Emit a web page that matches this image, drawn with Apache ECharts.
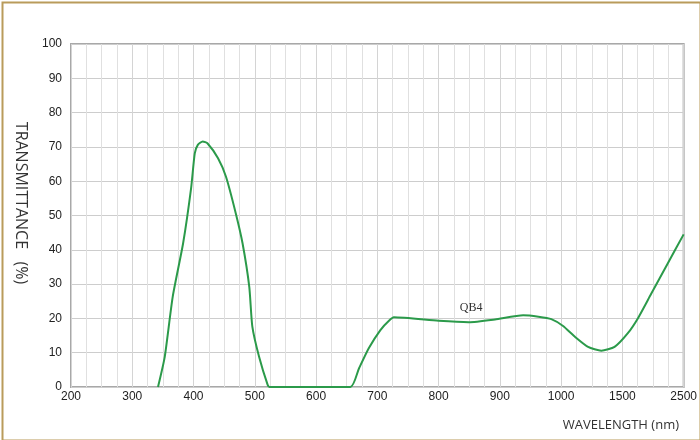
<!DOCTYPE html>
<html><head><meta charset="utf-8">
<script src="https://cdn.jsdelivr.net/npm/echarts@6/dist/echarts.min.js"></script>
<style>html,body{margin:0;padding:0;background:#fff}#c{width:700px;height:440px}</style>
</head><body><div id="c"></div>
<script>
// Tick labels of the (piecewise) wavelength axis
var xTickLabels = ['200','300','400','500','600','700','800','900','1000','1500','2500'];
var xTickNm = [200,300,400,500,600,700,800,900,1000,1500,2500];
// Curve QB4: wavelength (nm) and transmittance (%)
var wavelength = [342, 353, 366, 383, 396, 402, 407, 415, 423, 440, 453, 469, 480, 491, 496, 507, 521, 524,
                  656, 670, 686, 705, 719, 727, 800, 849, 892, 938, 963, 984, 1016, 1111, 1220, 1328, 1436, 1589, 1752, 1968, 2240, 2500];
var transmittance = [0, 8.8, 26.3, 41.9, 57.9, 68.1, 70.6, 71.6, 71.0, 66.7, 61.3, 50.6, 41.9, 29.2, 17.6, 8.8, 0.6, 0,
                  0, 5.4, 11.3, 16.6, 19.3, 20.3, 19.3, 18.9, 19.7, 20.9, 20.5, 19.8, 17.8, 14.7, 11.7, 10.6, 11.7, 15.7, 20.0, 27.1, 36.0, 44.5];
var seriesName = 'QB4';
var labelNm = 853, labelValue = 23;

// map wavelength onto the piecewise-linear axis position (one unit per tick interval)
function nmToPos(nm){
  for (var i=0;i<xTickNm.length-1;i++){
    if (nm <= xTickNm[i+1] || i === xTickNm.length-2){
      return i + (nm - xTickNm[i])/(xTickNm[i+1]-xTickNm[i]);
    }
  }
}
var data = wavelength.map(function(w,i){ return [nmToPos(w), transmittance[i]]; });

var chart = echarts.init(document.getElementById('c'));
chart.setOption({
  animation:false,
  backgroundColor:'#fff',
  grid:{left:71,right:14,top:44,bottom:53,show:true,borderColor:'#a8a8a8',borderWidth:2,backgroundColor:'transparent'},
  xAxis:{type:'value',min:0,max:xTickLabels.length-1,interval:1,
    axisLine:{show:false},axisTick:{show:false},
    axisLabel:{color:'#222',fontSize:12,fontFamily:'Arial, Liberation Sans',margin:4,
      formatter:function(v){return xTickLabels[Math.round(v)];}},
    splitLine:{show:true,lineStyle:{color:'#d4d4d4',width:1}},
    minorTick:{show:false,splitNumber:4},
    minorSplitLine:{show:true,lineStyle:{color:'#e0e0e0',width:1}}
  },
  yAxis:{type:'value',min:0,max:100,interval:10,
    axisLine:{show:false},axisTick:{show:false},
    axisLabel:{color:'#222',fontSize:12,fontFamily:'Arial, Liberation Sans',margin:9},
    splitLine:{show:true,lineStyle:{color:'#cdcdcd',width:1}}
  },
  series:[{
    name:seriesName,type:'line',data:data,showSymbol:false,smooth:0.2,
    lineStyle:{color:'#2b9a4a',width:2},
    markPoint:{symbol:'circle',symbolSize:0,
      data:[{coord:[nmToPos(labelNm),labelValue]}],
      label:{show:true,position:'inside',formatter:seriesName,color:'#333',fontSize:12,fontFamily:'Liberation Serif, DejaVu Serif, serif'}}
  }],
  graphic:[
    {type:'rect',left:0,top:0,shape:{width:698,height:438},style:{fill:'none',stroke:'#b99b5b',lineWidth:2},silent:true,z:100,position:[1,1]},
    {type:'text',x:21,y:203,rotation:-Math.PI/2,style:{text:'TRANSMITTANCE   (%)',fill:'#333',fontSize:16,fontFamily:'Open Sans, sans-serif',align:'center',verticalAlign:'middle'}},
    {type:'text',x:679,y:425,style:{text:'WAVELENGTH (nm)',fill:'#333',fontSize:13,fontFamily:'Open Sans, sans-serif',align:'right',verticalAlign:'middle'}}
  ]
});
</script></body></html>
